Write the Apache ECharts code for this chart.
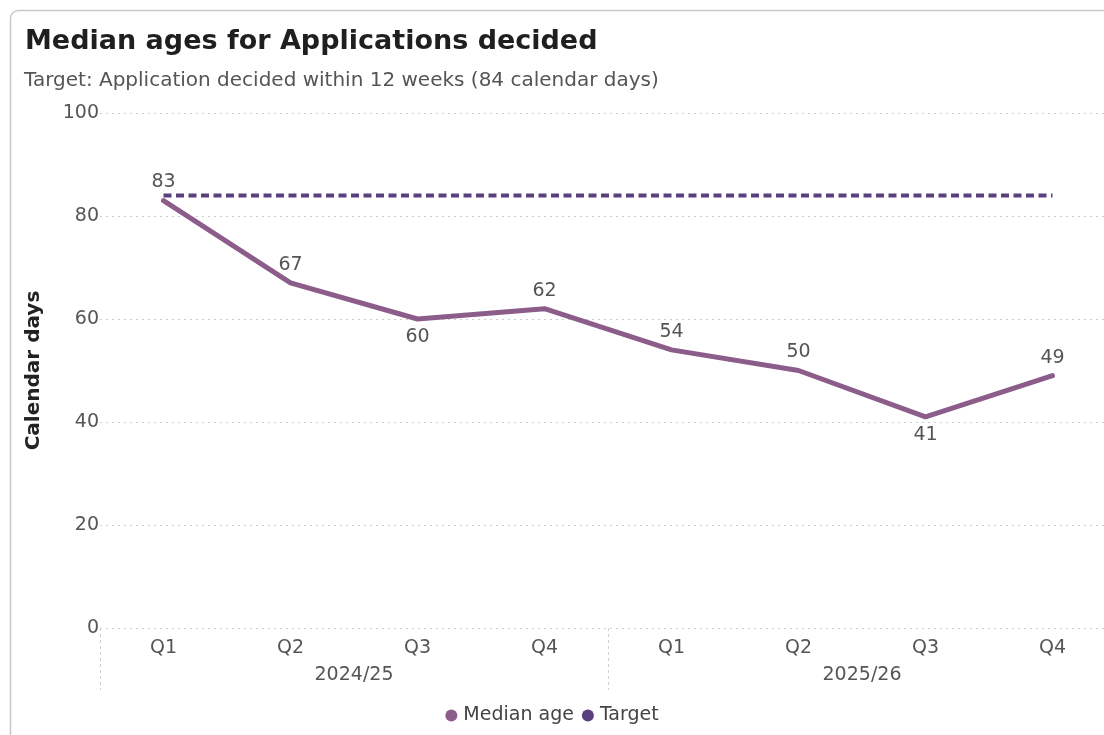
<!DOCTYPE html>
<html>
<head>
<meta charset="utf-8">
<style>
  html, body { margin: 0; padding: 0; background: #ffffff; }
  #chart { width: 1104px; height: 735px; }
</style>
<script src="https://cdn.jsdelivr.net/npm/echarts@6/dist/echarts.min.js"></script>
</head>
<body>
<div id="chart"></div>
<script>
// Quarters within each financial year
const quarters = ['Q1', 'Q2', 'Q3', 'Q4', 'Q1', 'Q2', 'Q3', 'Q4'];
const years = ['2024/25', '2025/26'];
// Median calendar days to decide an application
const medianAge = [83, 67, 60, 62, 54, 50, 41, 49];
// Target: 12 weeks = 84 calendar days
const target = [84, 84, 84, 84, 84, 84, 84, 84];
// Which side of the point each value label sits on
const labelSide = ['top', 'top', 'bottom', 'top', 'top', 'top', 'bottom', 'top'];
const yTicks = { min: 0, max: 100, interval: 20 };

const medianColor = '#8c5d8a';
const targetColor = '#5a3f7e';
const font = 'DejaVu Sans, sans-serif';

const chart = echarts.init(document.getElementById('chart'));
chart.setOption({
  animation: false,
  textStyle: { fontFamily: font },
  title: [
    {
      text: 'Median ages for Applications decided',
      left: 20,
      top: 23,
      textStyle: { fontFamily: font, fontWeight: 'bold', fontSize: 27, color: '#1f1f1f' }
    },
    {
      text: 'Target: Application decided within 12 weeks (84 calendar days)',
      left: 19,
      top: 66,
      textStyle: { fontFamily: font, fontWeight: 'normal', fontSize: 20, color: '#555555' }
    }
  ],
  legend: {
    bottom: 5,
    left: 'center',
    itemWidth: 12,
    itemHeight: 12,
    itemGap: 8,
    icon: 'circle',
    textStyle: { fontSize: 19, color: '#444444', padding: [0, 0, 0, 1] },
    data: [
      { name: 'Median age', itemStyle: { color: medianColor } },
      { name: 'Target', itemStyle: { color: targetColor } }
    ]
  },
  graphic: [{
    type: 'rect',
    shape: { x: 10.5, y: 10.5, width: 1110, height: 740, r: 8 },
    style: { fill: 'none', stroke: '#c8c8c8', lineWidth: 1.5 },
    silent: true,
    z: -10
  }],
  grid: {
    left: 100, width: 1016, top: 113, bottom: 107,
    containLabel: false,
    outerBoundsMode: 'none'
  },
  xAxis: [
    {
      type: 'category',
      data: quarters,
      boundaryGap: true,
      axisLine: { show: false },
      axisTick: { show: false },
      axisLabel: { fontSize: 19, color: '#555555', margin: 11 }
    },
    {
      type: 'category',
      data: years,
      position: 'bottom',
      boundaryGap: true,
      axisLine: { show: false },
      axisTick: { show: true, length: 62, interval: 0, lineStyle: { color: '#d0d0d0', type: [3, 3], width: 1 } },
      axisLabel: { fontSize: 19, color: '#555555', margin: 38 }
    }
  ],
  yAxis: {
    type: 'value',
    min: yTicks.min,
    max: yTicks.max,
    interval: yTicks.interval,
    name: 'Calendar days',
    nameLocation: 'middle',
    nameGap: 56,
    nameTextStyle: { fontSize: 20, fontWeight: 'bold', color: '#222222' },
    axisLine: { show: false },
    axisTick: { show: false },
    axisLabel: { fontSize: 19, color: '#555555', margin: 1 },
    splitLine: { lineStyle: { color: '#cccccc', type: [2, 4], width: 1 } }
  },
  series: [
    {
      name: 'Median age',
      type: 'line',
      data: medianAge.map((v, i) => ({ value: v, label: { position: labelSide[i] } })),
      symbol: 'circle',
      symbolSize: 1,
      showSymbol: true,
      lineStyle: { color: medianColor, width: 5, cap: 'round', join: 'round' },
      itemStyle: { color: medianColor },
      label: { show: true, fontSize: 19, color: '#555555', distance: 8 },
      z: 3
    },
    {
      name: 'Target',
      type: 'line',
      data: target,
      symbol: 'none',
      lineStyle: { color: targetColor, width: 4, type: [8, 4.5] },
      itemStyle: { color: targetColor },
      z: 2
    }
  ]
});
</script>
</body>
</html>
